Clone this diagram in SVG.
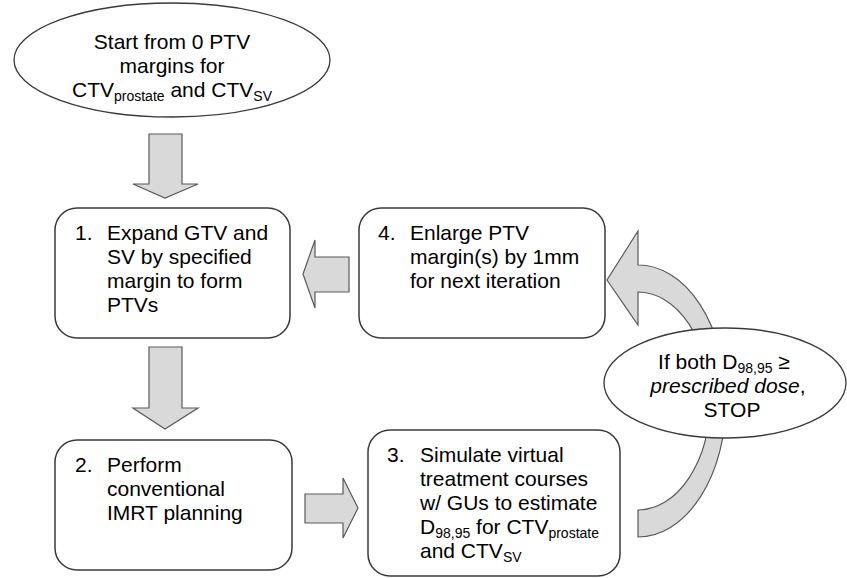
<svg xmlns="http://www.w3.org/2000/svg" width="847" height="578" viewBox="0 0 847 578">
<style>
.box{fill:#fff;stroke:#3a3a3a;stroke-width:1.5}
.ell{fill:#fff;stroke:#3a3a3a;stroke-width:1.3}
.arr{fill:#d9d9d9;stroke:#5a5a5a;stroke-width:1.2;stroke-linejoin:miter}
text{font-family:"Liberation Sans",Arial,sans-serif;font-size:21px;fill:#000}
.sub{font-size:14px}
.c{text-anchor:middle}
</style>
<rect width="847" height="578" fill="#fff"/>
<g id="connectors">
<path class="arr" d="M149,134 H182 V184 H198 L165,198 L133,184 H149 Z"/>
<path class="arr" d="M149,347 H182 V408 H198 L165,429 L133,408 H149 Z"/>
<path class="arr" d="M305,494 H343 V478 L358,508 L343,538 V523 H305 Z"/>
<path class="arr" d="M349,257 V292 H315 V308 L303,274 L315,240 V257 Z"/>
<path class="arr" d="M638,292 A72,109 0 0 1 638,510 L638,537 A88,136 0 0 0 638,265 L638,231 L607,280 L638,325 Z"/>
</g>
<g id="start">
<ellipse class="ell" cx="172" cy="60" rx="158" ry="57"/>
<text class="c" x="172" y="49">Start from 0 PTV</text>
<text class="c" x="172" y="73">margins for</text>
<text class="c" x="172" y="97">CTV<tspan class="sub" dy="4">prostate</tspan><tspan dy="-4"> and CTV</tspan><tspan class="sub" dy="4">SV</tspan></text>
</g>
<g id="step1">
<rect class="box" x="55" y="208" width="235" height="130" rx="22"/>
<text x="75" y="240">1.</text>
<text x="107" y="240">Expand GTV and</text>
<text x="107" y="264">SV by specified</text>
<text x="107" y="288">margin to form</text>
<text x="107" y="312">PTVs</text>
</g>
<g id="step4">
<rect class="box" x="359" y="208" width="246" height="130" rx="22"/>
<text x="378" y="240">4.</text>
<text x="410" y="240">Enlarge PTV</text>
<text x="410" y="264">margin(s) by 1mm</text>
<text x="410" y="288">for next iteration</text>
</g>
<g id="step2">
<rect class="box" x="55" y="440" width="237" height="130" rx="22"/>
<text x="75" y="472">2.</text>
<text x="107" y="472">Perform</text>
<text x="107" y="496">conventional</text>
<text x="107" y="520">IMRT planning</text>
</g>
<g id="step3">
<rect class="box" x="368" y="430" width="252" height="146" rx="22"/>
<text x="387" y="462">3.</text>
<text x="420" y="462">Simulate virtual</text>
<text x="420" y="486">treatment courses</text>
<text x="420" y="510">w/ GUs to estimate</text>
<text x="420" y="534">D<tspan class="sub" dy="4">98,95</tspan><tspan dy="-4"> for CTV</tspan><tspan class="sub" dy="4">prostate</tspan></text>
<text x="420" y="558">and CTV<tspan class="sub" dy="4">SV</tspan></text>
</g>
<g id="decision">
<ellipse class="ell" cx="725" cy="383" rx="121" ry="55"/>
<text class="c" x="724" y="369">If both D<tspan class="sub" dy="4">98,95</tspan><tspan dy="-4"> ≥</tspan></text>
<text class="c" x="728" y="393"><tspan font-style="italic">prescribed dose</tspan>,</text>
<text class="c" x="732" y="417">STOP</text>
</g>
</svg>
